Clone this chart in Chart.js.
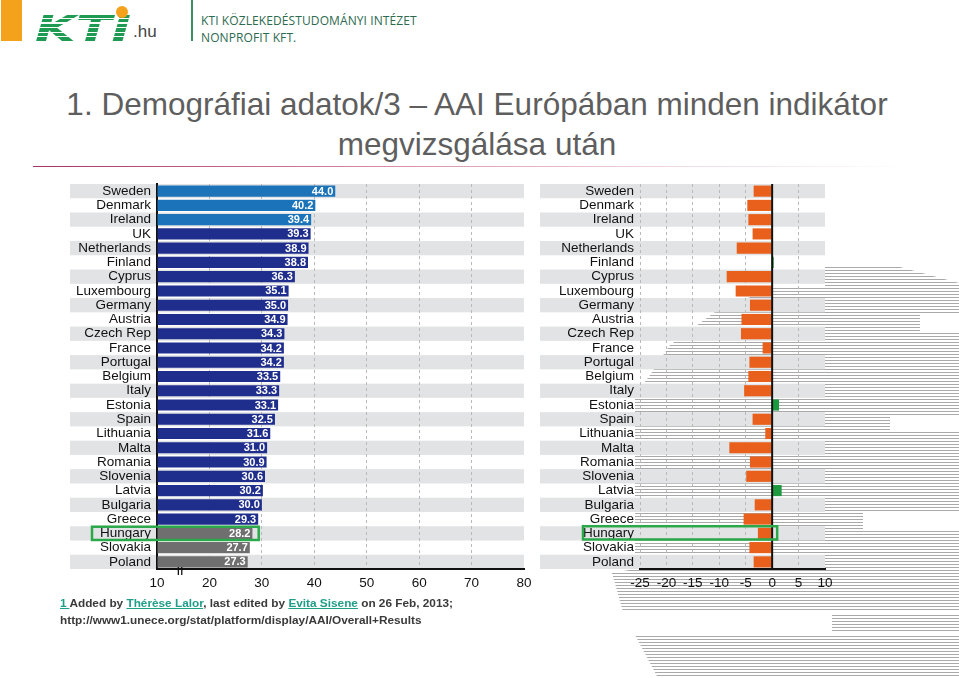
<!DOCTYPE html>
<html><head><meta charset="utf-8">
<script src="https://cdn.jsdelivr.net/npm/chart.js@4.4.1/dist/chart.umd.min.js"></script>
<style>
html,body{margin:0;padding:0;background:#fff;}
body{width:959px;height:678px;overflow:hidden;position:relative;font-family:"Liberation Sans",Arial,sans-serif;}
.abs{position:absolute;}
.stripes{background:repeating-linear-gradient(to bottom,#a9a9a9 0px,#a9a9a9 1px,rgba(255,255,255,0) 1px,rgba(255,255,255,0) 3px);}
#logo{left:35px;top:6px;font-family:"DejaVu Sans",sans-serif;font-weight:bold;font-style:italic;font-size:35px;letter-spacing:0px;line-height:46px;
 background:repeating-linear-gradient(to bottom,#1f9a52 0px,#1f9a52 3px,#ffffff 3px,#ffffff 4.5px);-webkit-background-clip:text;background-clip:text;color:transparent;
 transform:scaleX(1.5);transform-origin:left top;}
#title{left:0;top:84px;width:954px;text-align:center;font-size:31.5px;line-height:40px;color:#5e5e5e;}
#foot{left:60px;top:595px;font-size:11.8px;font-weight:bold;line-height:17px;color:#3a3a3a;white-space:nowrap;}
#foot u{color:#1f9e8a;}
</style></head>
<body>
<!-- background stripes (slide decoration) -->
<div class="abs stripes" style="left:0;top:0;width:959px;height:678px;clip-path:polygon(825px 267px,900px 267px,959px 283px,959px 612px,623px 612px,612px 573px,635px 569px,635px 395px,650px 375px,670px 345px,715px 312px,772px 288px,825px 288px);"></div>
<div class="abs stripes" style="left:0;top:0;width:959px;height:678px;clip-path:polygon(832px 614px,959px 614px,959px 632px,832px 632px);"></div>
<div class="abs stripes" style="left:0;top:0;width:959px;height:678px;clip-path:polygon(635px 635px,959px 635px,959px 678px,658px 678px);"></div>
<div class="abs" style="left:920px;top:315px;width:39px;height:18px;background:#fff"></div>
<div class="abs" style="left:890px;top:417px;width:69px;height:13px;background:#fff"></div>
<div class="abs" style="left:863px;top:513px;width:96px;height:17px;background:#fff"></div>

<!-- header -->
<div class="abs" style="left:1px;top:0;width:21px;height:41px;background:#f4a21c"></div>
<div class="abs" id="logo">KTI</div>
<div class="abs" style="left:116px;top:6px;width:12px;height:12px;border-radius:50%;background:#f4a21c"></div>
<div class="abs" style="left:133px;top:22px;font-size:17px;color:#444">.hu</div>
<div class="abs" style="left:191px;top:0;width:2px;height:41px;background:#3a8f62"></div>
<div class="abs" style="left:201px;top:12px;font-family:'Open Sans',sans-serif;font-size:12px;line-height:17px;color:#2d6a4f;letter-spacing:0.1px">KTI KÖZLEKEDÉSTUDOMÁNYI INTÉZET<br>NONPROFIT KFT.</div>

<div class="abs" id="title">1. Demográfiai adatok/3 – AAI Európában minden indikátor<br>megvizsgálása után</div>
<div class="abs" style="left:33px;top:166px;width:880px;height:1px;background:linear-gradient(to right,#a8326a,#d98aa8 40%,#f2dde5 75%,rgba(255,255,255,0))"></div>

<canvas id="c1" class="abs" style="left:60px;top:175px" width="480" height="425"></canvas>
<canvas id="c2" class="abs" style="left:540px;top:175px" width="300" height="440"></canvas>

<div class="abs" id="foot"><u>1 </u>Added by <u>Thérèse Lalor</u>, last edited by <u>Evita Sisene</u> on 26 Feb, 2013;<br>http://www1.unece.org/stat/platform/display/AAI/Overall+Results</div>

<script>
// ---------- data ----------
const countries = ['Sweden','Denmark','Ireland','UK','Netherlands','Finland','Cyprus','Luxembourg','Germany','Austria','Czech Rep','France','Portugal','Belgium','Italy','Estonia','Spain','Lithuania','Malta','Romania','Slovenia','Latvia','Bulgaria','Greece','Hungary','Slovakia','Poland'];
const aaiScores = [44.0,40.2,39.4,39.3,38.9,38.8,36.3,35.1,35.0,34.9,34.3,34.2,34.2,33.5,33.3,33.1,32.5,31.6,31.0,30.9,30.6,30.2,30.0,29.3,28.2,27.7,27.3];
const genderGap = [-3.5,-4.7,-4.5,-3.7,-6.7,0.3,-8.6,-6.9,-4.2,-5.8,-5.9,-1.8,-4.3,-4.5,-5.3,1.3,-3.7,-1.3,-8.1,-4.2,-4.9,1.8,-3.3,-5.4,-2.7,-4.3,-3.5];
const leftTicks = [10,20,30,40,50,60,70,80];
const rightTicks = [-25,-20,-15,-10,-5,0,5,10];
const lightBlueCountries = ['Sweden','Denmark','Ireland'];
const greyCountries = ['Hungary','Slovakia','Poland'];
const highlightCountry = 'Hungary';
const legendLabels = ['Women lower than men','Higher than men'];

// ---------- styles ----------
const FONT = '"Liberation Sans", Arial, sans-serif';
Chart.defaults.font.family = FONT;
Chart.defaults.color = '#111';
const BAND = '#e2e3e5';
const GRID = '#b9b9b9';
const GREEN_BOX = '#2aa84a';
const LABEL_SIZE = 13.5;

function bandsPlugin(leftOffset){
  return {
    id:'bands',
    beforeDraw(chart){
      const {ctx, chartArea, scales:{y}} = chart;
      const n = chart.data.labels.length;
      const step = (y.bottom - y.top)/n;
      const left = chartArea.left - leftOffset;
      ctx.save();
      ctx.fillStyle = BAND;
      for(let i=0;i<n;i+=2){
        const cy = y.getPixelForValue(i);
        ctx.fillRect(left, cy - step/2, chartArea.right - left, step);
      }
      ctx.restore();
    }
  };
}

function gridColor(hidden){
  return c => (c.tick && hidden.includes(c.tick.value)) ? 'rgba(0,0,0,0)' : GRID;
}
function fitY(width){
  return s => { s.width = width; s.paddingTop = 0; s.paddingBottom = 0; };
}
function fitX(s){ s.height = 31; s.paddingLeft = 0; s.paddingRight = 0; }

// ---------- left chart: AAI overall ----------
const leftColors = countries.map(c => lightBlueCountries.includes(c) ? '#1b74ba' : greyCountries.includes(c) ? '#6f6f6f' : '#1f2e8c');

const leftExtras = {
  id:'leftExtras',
  afterDatasetsDraw(chart){
    const {ctx, scales:{x,y}} = chart;
    const meta = chart.getDatasetMeta(0);
    ctx.save();
    ctx.font = 'bold 11px ' + FONT;
    ctx.fillStyle = '#fff';
    ctx.textAlign = 'right';
    ctx.textBaseline = 'middle';
    meta.data.forEach((bar,i) => {
      ctx.fillText(aaiScores[i].toFixed(1), bar.x - 2, bar.y + 0.5);
    });
    // highlight box
    const hi = countries.indexOf(highlightCountry);
    const step = (y.bottom - y.top)/countries.length;
    const cy = y.getPixelForValue(hi);
    const x1 = x.left - 65, x2 = x.getPixelForValue(29.4);
    ctx.strokeStyle = GREEN_BOX; ctx.lineWidth = 2.5;
    ctx.strokeRect(x1, cy - step/2 + 0.5, x2 - x1, step - 1);
    // axis break mark
    const bx = x.getPixelForValue(14.4);
    ctx.strokeStyle = '#111'; ctx.lineWidth = 1.3;
    ctx.beginPath();
    ctx.moveTo(bx-1.7, y.bottom - 2); ctx.lineTo(bx-1.7, y.bottom + 6);
    ctx.moveTo(bx+1.7, y.bottom - 2); ctx.lineTo(bx+1.7, y.bottom + 6);
    ctx.stroke();
    ctx.restore();
  }
};

new Chart(document.getElementById('c1'), {
  type:'bar',
  data:{ labels: countries, datasets:[{ data: aaiScores, backgroundColor: leftColors, base:10, barPercentage:0.78, categoryPercentage:1 }]},
  options:{
    indexAxis:'y', responsive:false, animation:false, devicePixelRatio:1,
    layout:{ padding:{ top:9, right:16, left:0, bottom:0 } },
    plugins:{ legend:{display:false}, tooltip:{enabled:false} },
    scales:{
      x:{ type:'linear', min:10, max:80,
          afterBuildTicks: s => { s.ticks = leftTicks.map(v => ({value:v})); },
          grid:{ color: gridColor([10,80]), lineWidth:1, drawTicks:false },
          border:{ display:true, color:'#111', width:2, dash:[3,3] },
          ticks:{ padding:6, color:'#111', font:{size:LABEL_SIZE}, callback: v => String(v) },
          afterFit: fitX },
      y:{ grid:{ display:false, drawTicks:false },
          border:{ display:true, color:'#111', width:2 },
          ticks:{ padding:6, color:'#111', font:{size:LABEL_SIZE}, autoSkip:false },
          afterFit: fitY(97) }
    }
  },
  plugins:[bandsPlugin(87), leftExtras]
});

// ---------- right chart: gender gap ----------
const rightColors = genderGap.map(v => v < 0 ? '#e8601c' : '#1d9a40');

const rightExtras = {
  id:'rightExtras',
  afterDatasetsDraw(chart){
    const {ctx, scales:{x,y}} = chart;
    ctx.save();
    const zx = x.getPixelForValue(0);
    ctx.strokeStyle = '#111'; ctx.lineWidth = 2;
    ctx.beginPath(); ctx.moveTo(zx, y.top); ctx.lineTo(zx, y.bottom); ctx.stroke();
    const hi = countries.indexOf(highlightCountry);
    const step = (y.bottom - y.top)/countries.length;
    const cy = y.getPixelForValue(hi);
    const x1 = x.left - 57, x2 = x.getPixelForValue(0.95);
    ctx.strokeStyle = GREEN_BOX; ctx.lineWidth = 2.5;
    ctx.strokeRect(x1, cy - step/2, x2 - x1, step - 1);
    ctx.restore();
  },
  afterDraw(chart){
    const {ctx, scales:{x}} = chart;
    const p = v => x.getPixelForValue(v);
    const ay = x.bottom + 22;
    ctx.save();
    ctx.strokeStyle = '#222'; ctx.fillStyle = '#222'; ctx.lineWidth = 1;
    const arrow = (from, to) => {
      ctx.beginPath(); ctx.moveTo(from, ay); ctx.lineTo(to, ay); ctx.stroke();
      const d = to > from ? -1 : 1;
      ctx.beginPath(); ctx.moveTo(to, ay); ctx.lineTo(to + d*7, ay - 2.5); ctx.lineTo(to + d*7, ay + 2.5); ctx.closePath(); ctx.fill();
    };
    arrow(p(-1.0), p(-18.0));
    arrow(p(0.6), p(9.7));
    ctx.font = '9.5px ' + FONT;
    ctx.textBaseline = 'middle';
    ctx.textAlign = 'right'; ctx.fillStyle = '#e57a30';
    ctx.fillText(legendLabels[0], p(-0.9), x.bottom + 32);
    ctx.textAlign = 'left'; ctx.fillStyle = '#2e9e56';
    ctx.fillText(legendLabels[1], p(0.4), x.bottom + 32);
    ctx.restore();
  }
};

new Chart(document.getElementById('c2'), {
  type:'bar',
  data:{ labels: countries, datasets:[{ data: genderGap, backgroundColor: rightColors, barPercentage:0.78, categoryPercentage:1 }]},
  options:{
    indexAxis:'y', responsive:false, animation:false, devicePixelRatio:1,
    layout:{ padding:{ top:9, right:15, left:0, bottom:15 } },
    plugins:{ legend:{display:false}, tooltip:{enabled:false} },
    scales:{
      x:{ type:'linear', min:-25, max:10,
          afterBuildTicks: s => { s.ticks = rightTicks.map(v => ({value:v})); },
          grid:{ color: gridColor([0,10]), lineWidth:1, drawTicks:false },
          border:{ display:true, color:'#111', width:2, dash:[3,3] },
          ticks:{ padding:6, color:'#111', font:{size:LABEL_SIZE}, callback: v => String(v) },
          afterFit: fitX },
      y:{ grid:{ display:false, drawTicks:false },
          border:{ display:false },
          ticks:{ padding:6, color:'#111', font:{size:LABEL_SIZE}, autoSkip:false },
          afterFit: fitY(100) }
    }
  },
  plugins:[bandsPlugin(100), rightExtras]
});
</script>
</body></html>
